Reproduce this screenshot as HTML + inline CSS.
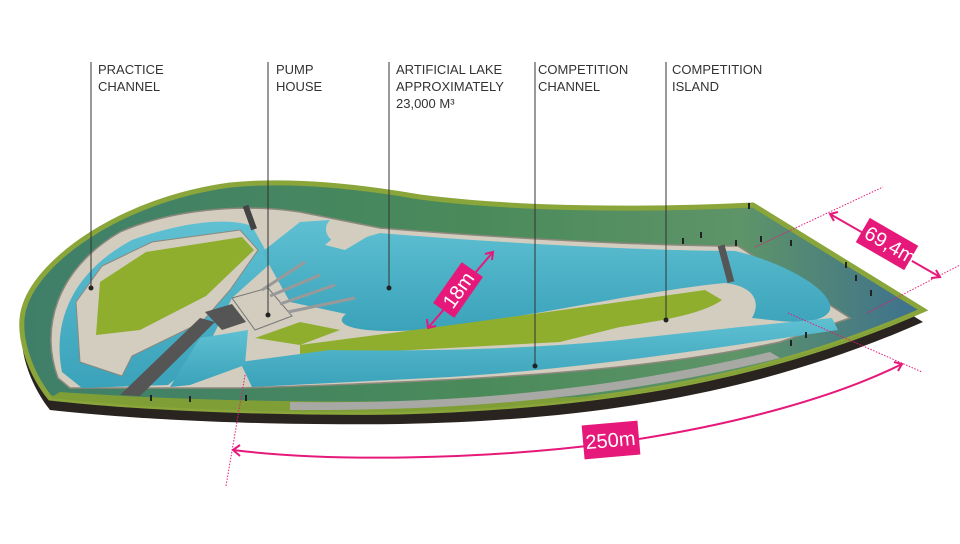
<!DOCTYPE html>
<html><head><meta charset="utf-8"><style>
html,body{margin:0;padding:0;background:#fff;}
svg{display:block;}
text{font-family:"Liberation Sans",Arial,sans-serif;}
</style></head><body>
<svg width="960" height="544" viewBox="0 0 960 544" xmlns="http://www.w3.org/2000/svg">
<defs>
<linearGradient id="gr" x1="0" y1="0" x2="1" y2="0">
<stop offset="0" stop-color="#3f7f6a"/><stop offset="0.5" stop-color="#4a8a5a"/><stop offset="0.8" stop-color="#5e9468"/><stop offset="1" stop-color="#3d7090"/>
</linearGradient>
<linearGradient id="wt" x1="0" y1="0" x2="0" y2="1">
<stop offset="0" stop-color="#5fc0d2"/><stop offset="1" stop-color="#3aa2ba"/>
</linearGradient>
</defs>
<!-- base -->
<path d="M50 410 C30 385 15 345 25 317 C40 272 120 212 230 197 C300 190 380 202 420 209 C520 222 650 222 753 217 L923 322 C780 385 620 420 400 424 C250 426 120 418 50 410 Z" fill="#2a2421"/>
<!-- top surface -->
<path d="M50 398 C30 373 15 333 25 305 C40 260 120 200 230 185 C300 178 380 190 420 197 C520 210 650 210 753 205 L923 310 C780 373 620 406 400 412 C250 414 120 406 50 398 Z" fill="url(#gr)" stroke="#8aa63a" stroke-width="5"/>
<!-- grass bottom rim -->
<path d="M60 392 C200 402 400 406 620 395 C760 375 860 340 918 312 L923 310 C780 373 620 406 400 412 C250 414 120 406 50 398 Z" fill="#7f9f36"/>
<!-- concrete platform -->
<path d="M58 378 C40 330 55 270 120 232 C170 210 240 203 300 212 L380 228 C500 238 650 246 738 246 L850 318 L780 342 C650 370 500 380 240 388 L70 388 Z" fill="#d2cdbf" stroke="#8c887c" stroke-width="1.5"/>
<!-- practice channel water -->
<path d="M62 372 C52 322 72 272 132 240 C182 222 228 217 252 226 L272 262 L232 298 L212 338 L200 360 L168 385 L82 388 Z" fill="url(#wt)"/>
<path d="M80 362 L76 302 L102 266 L152 242 L240 230 L258 250 L230 290 L202 322 L132 356 L122 376 Z" fill="#d2cdbf" stroke="#8c887c"/>
<path d="M96 335 L100 282 L146 252 L242 237 L254 250 L206 296 L140 330 Z" fill="#8fae2e"/>
<!-- lake -->
<path d="M262 252 L300 222 L330 220 C320 230 330 246 346 243 L380 233 C500 243 650 251 735 251 C780 261 835 290 830 310 C825 322 800 323 780 321 L752 318 C762 300 752 286 725 283 C640 291 520 320 420 330 C360 334 330 326 346 314 L290 302 Z" fill="url(#wt)"/>
<path d="M340 232 L375 232 L345 250 L325 245 Z" fill="#d2cdbf"/>
<!-- island -->
<path d="M300 345 C400 332 550 312 705 290 L722 300 C700 316 650 322 620 327 L560 342 L300 356 Z" fill="#8fae2e"/>
<path d="M255 338 L300 322 L340 330 L300 345 Z" fill="#8fae2e"/>
<!-- competition channel -->
<path d="M240 362 L330 350 C450 352 550 347 620 340 L740 327 L832 318 L838 330 C720 347 600 367 450 377 L252 387 Z" fill="url(#wt)"/>
<path d="M200 338 L248 330 L245 365 L190 385 L170 387 Z" fill="url(#wt)"/>
<!-- pump house -->
<path d="M120 395 L200 318 L215 322 L140 396 Z" fill="#555"/>
<path d="M232 298 L268 288 L292 316 L255 330 Z" fill="#d2cdbf" stroke="#777"/>
<path d="M205 312 L232 304 L246 322 L222 330 Z" fill="#555"/>
<g stroke="#999" stroke-width="3" fill="none">
<path d="M262 290 L305 262"/><path d="M270 296 L320 275"/><path d="M280 304 L335 285"/><path d="M288 312 L355 298"/>
</g>
<rect x="247" y="205" width="6" height="25" fill="#444" transform="rotate(-20 250 218)"/>
<rect x="722" y="245" width="7" height="38" fill="#555" transform="rotate(-15 725 262)"/>
<!-- grandstand -->
<path d="M290 402 C450 404 600 392 770 352 L780 358 C610 400 450 411 290 410 Z" fill="#a8a8a4"/>
<!-- people -->
<g fill="#222">
<rect x="150" y="395" width="2" height="6"/><rect x="189" y="396" width="2" height="6"/><rect x="245" y="395" width="2" height="6"/>
<rect x="682" y="238" width="2" height="6"/><rect x="700" y="232" width="2" height="6"/><rect x="760" y="236" width="2" height="6"/>
<rect x="790" y="240" width="2" height="6"/><rect x="845" y="262" width="2" height="6"/><rect x="855" y="275" width="2" height="6"/>
<rect x="870" y="290" width="2" height="6"/><rect x="805" y="332" width="2" height="6"/><rect x="790" y="340" width="2" height="6"/>
<rect x="748" y="203" width="2" height="6"/><rect x="735" y="240" width="2" height="6"/>
</g>
<!-- labels -->
<g stroke="#333" stroke-width="1">
<line x1="91" y1="62" x2="91" y2="288"/>
<line x1="268" y1="62" x2="268" y2="315"/>
<line x1="389" y1="62" x2="389" y2="288"/>
<line x1="535" y1="62" x2="535" y2="366"/>
<line x1="666" y1="62" x2="666" y2="320"/>
</g>
<g fill="#222"><circle cx="91" cy="288" r="2.5"/><circle cx="268" cy="315" r="2.5"/><circle cx="389" cy="288" r="2.5"/><circle cx="535" cy="366" r="2.5"/><circle cx="666" cy="320" r="2.5"/></g>
<g font-size="13" fill="#333">
<text x="98" y="74">PRACTICE</text><text x="98" y="91">CHANNEL</text>
<text x="276" y="74">PUMP</text><text x="276" y="91">HOUSE</text>
<text x="396" y="74">ARTIFICIAL LAKE</text><text x="396" y="91">APPROXIMATELY</text><text x="396" y="108">23,000 M³</text>
<text x="538" y="74">COMPETITION</text><text x="538" y="91">CHANNEL</text>
<text x="672" y="74">COMPETITION</text><text x="672" y="91">ISLAND</text>
</g>
<!-- dimension lines -->
<g stroke="#e6197a" fill="none">
<g stroke-dasharray="1.5 1.5" stroke-width="1">
<line x1="755" y1="247" x2="883" y2="187"/>
<line x1="867" y1="313" x2="960" y2="265"/>
<line x1="788" y1="313" x2="922" y2="372"/>
<line x1="245" y1="375" x2="226" y2="486"/>
</g>
<g stroke-width="2">
<line x1="830" y1="214" x2="940" y2="277"/>
<path d="M838 212 L830 214 L834 221 M931 278 L940 277 L936 270"/>
<line x1="428" y1="328" x2="493" y2="252"/>
<path d="M427 319 L428 328 L436 326 M485 254 L493 252 L492 260"/>
<path d="M233 450 C330 462 480 460 612 443 C740 425 840 395 902 364"/>
<path d="M240 445 L233 450 L240 456 M894 362 L902 364 L898 371"/>
</g>
</g>
<g fill="#e6197a">
<rect x="-28" y="-14" width="56" height="28" transform="translate(887 244) rotate(30)"/>
<rect x="-25" y="-13" width="50" height="26" transform="translate(458 290) rotate(-55)"/>
<rect x="-28" y="-17" width="56" height="34" transform="translate(611 440) rotate(-5)"/>
</g>
<g fill="#fff" font-size="20" text-anchor="middle">
<text transform="translate(887 251) rotate(30)">69,4m</text>
<text transform="translate(464 294) rotate(-55)">18m</text>
<text transform="translate(611 447) rotate(-5)">250m</text>
</g>
</svg>
</body></html>
